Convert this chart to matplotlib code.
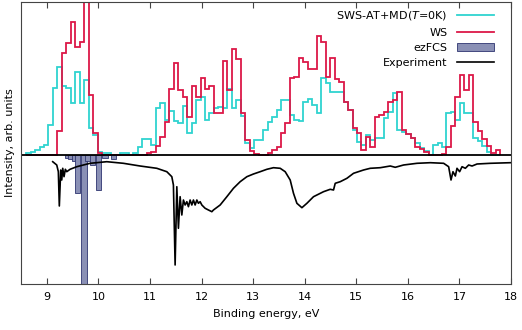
import matplotlib.pyplot as plt
import numpy as np

# histogram bins (eV), both theory curves share the same grid
hist_start = 8.599
hist_width = 0.0867

# SWS-AT+MD(T=0K), one value per bin
sws = [2, 3, 5, 8, 10, 30, 67, 88, 69, 67, 52, 83, 52, 75, 27, 20, 3, 2, 2, 0,
       0, 2, 2, 0, 2, 8, 16, 16, 10, 47, 52, 35, 44, 34, 32, 49, 22, 32, 55, 58,
       35, 42, 47, 48, 47, 66, 47, 55, 39, 12, 7, 15, 15, 25, 33, 38, 45, 55, 55, 40,
       35, 34, 53, 56, 50, 42, 77, 72, 63, 63, 63, 53, 45, 25, 13, 10, 20, 15, 17, 17,
       37, 43, 62, 25, 23, 21, 17, 12, 7, 4, 0, 10, 12, 8, 42, 43, 35, 52, 42, 42,
       17, 14, 9, 3, 0, 0]

# WS
ws = [0, 0, 0, 0, 0, 0, 0, 24, 102, 112, 133, 108, 113, 175, 60, 22, 2, 0, 0, 0,
      0, 0, 0, 0, 0, 0, 0, 2, 3, 9, 18, 33, 66, 92, 65, 58, 38, 69, 58, 77,
      66, 69, 42, 42, 94, 65, 106, 96, 42, 15, 4, 1, 0, 0, 2, 5, 8, 22, 32, 77,
      78, 97, 93, 86, 86, 119, 113, 78, 97, 76, 73, 53, 45, 27, 22, 5, 18, 8, 38, 40,
      43, 53, 55, 63, 25, 21, 17, 8, 6, 3, 0, 0, 0, 1, 8, 29, 58, 80, 65, 80,
      33, 24, 16, 9, 2, 5]

# ezFCS sticks (pointing down)
fcs_energy = [9.40, 9.47, 9.53, 9.60, 9.72, 9.80, 9.88, 10.01, 10.13, 10.29]
fcs_intensity = [-3, -4, -6, -38, -140, -6, -10, -35, -3, -4]

# experiment (plotted downward)
exp_energy = [9.115, 9.193, 9.224, 9.243, 9.270, 9.290, 9.309, 9.334, 9.360, 9.387,
              9.451, 9.581, 9.839, 10.163, 10.485, 10.809, 11.133, 11.327, 11.424, 11.455,
              11.488, 11.521, 11.552, 11.585, 11.618, 11.649, 11.682, 11.715, 11.746, 11.779,
              11.812, 11.843, 11.876, 11.909, 11.940, 11.973, 12.006, 12.070, 12.134, 12.200,
              12.231, 12.361, 12.491, 12.619, 12.749, 12.879, 13.007, 13.137, 13.267, 13.395,
              13.525, 13.622, 13.719, 13.783, 13.849, 13.946, 14.043, 14.171, 14.365, 14.495,
              14.559, 14.592, 14.689, 14.819, 14.947, 15.141, 15.271, 15.465, 15.659, 15.756,
              15.917, 16.178, 16.436, 16.694, 16.791, 16.837, 16.875, 16.921, 16.953, 17.004,
              17.051, 17.115, 17.179, 17.245, 17.342, 17.600, 17.988]
exp_intensity = [-6.7, -10, -16.7, -51, -15, -25, -13.3, -21.7, -14.3, -16.7,
                 -14.3, -11.7, -8.3, -6.7, -8.3, -11, -13.3, -16.7, -21.7, -30,
                 -110, -31.7, -73.3, -41.7, -60, -45, -50, -46.7, -51.7, -45,
                 -50, -45, -50, -45, -48.3, -46.7, -50, -53.3, -55, -56.7,
                 -55, -50, -41.7, -33.3, -26.7, -21.7, -19, -16.7, -14.3, -12.7,
                 -13.3, -16.7, -25, -38.3, -48.3, -52.7, -48.3, -41.7, -36.7, -34.3,
                 -35, -28.3, -26.7, -23.3, -18.3, -15, -13.3, -12.7, -11, -12.3,
                 -10, -8.3, -7.7, -8.3, -11.7, -25, -16.7, -21, -13.3, -16.7,
                 -11.7, -13.3, -10, -11, -9, -8.3, -7.7]

xticks = [9, 10, 11, 12, 13, 14, 15, 16, 17, 18]

cyan = '#2fd3d0'
red = '#dc1848'

plt.rcParams['font.family'] = 'DejaVu Sans'
plt.rcParams['font.size'] = 8

fig = plt.figure(figsize=(5.22, 3.30), dpi=100)
ax = fig.add_axes([21 / 522, 46 / 330, 490 / 522, 282 / 330])

edges = hist_start + hist_width * np.arange(len(sws) + 1)
h_sws = ax.stairs(sws, edges, color=cyan, linewidth=1.3, label='SWS-AT+MD($T$=0K)')
h_ws = ax.stairs(ws, edges, color=red, linewidth=1.3, label='WS')
h_fcs = ax.bar(fcs_energy, fcs_intensity, width=0.1, color='#8a90b5', edgecolor='#2e3470',
               linewidth=0.6, label='ezFCS')
h_exp, = ax.plot(exp_energy, exp_intensity, color='black', linewidth=1.2, label='Experiment')
ax.axhline(0, color='black', linewidth=1.3)

ax.set_xlim(8.5, 18)
ax.set_ylim(-129, 153)
ax.set_xticks(xticks)
ax.set_yticks([])
ax.tick_params(axis='x', direction='in', top=True, length=4, width=0.8,
               color='#444444', pad=6, labelsize=8)
for s in ax.spines.values():
    s.set_linewidth(0.8)
    s.set_color('#444444')

ax.set_xlabel('Binding energy, eV', fontsize=8, labelpad=5)
ax.set_ylabel('Intensity, arb. units', fontsize=8, labelpad=4)

handles = [h_sws, h_ws, h_fcs, h_exp]
ax.legend(handles, [h.get_label() for h in handles],
          loc='upper right', bbox_to_anchor=(0.9745, 0.99), borderaxespad=0,
          frameon=False, markerfirst=False, handlelength=3.3, handletextpad=0.9,
          labelspacing=0.48, fontsize=8)

plt.savefig('out.png', dpi=100)
